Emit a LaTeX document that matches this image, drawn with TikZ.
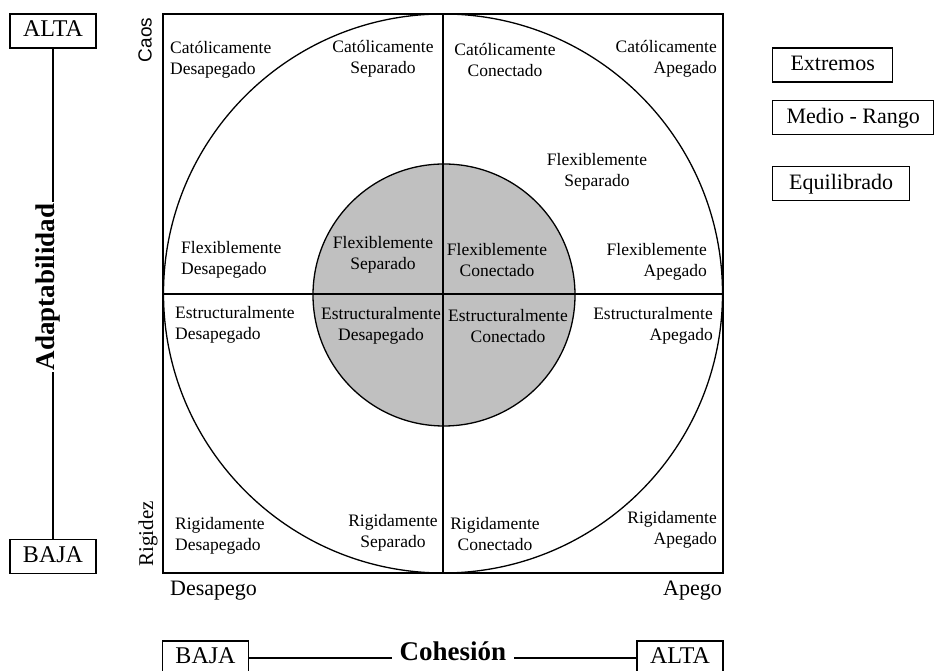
\documentclass[tikz,border=0pt]{standalone}
\usepackage{fontspec}
\setmainfont{Liberation Serif}
\setsansfont{Liberation Sans}
\usepackage{tikz}
\usetikzlibrary{positioning}
\definecolor{grisclaro}{RGB}{192,192,192}

\tikzset{
    etiqueta/.style={font=\fontsize{17.5}{21}\selectfont, inner sep=0pt},
    caja/.style={draw, line width=1.3pt, font=\fontsize{24}{28}\selectfont,
        minimum width=86pt, minimum height=34pt, inner sep=0pt, text depth=4pt},
    leyenda/.style={draw, line width=1.3pt, font=\fontsize{22}{26}\selectfont,
        minimum height=34pt, inner sep=0pt, text height=15pt, text depth=3pt, anchor=west},
    eje/.style={font=\bfseries\fontsize{27}{32}\selectfont, inner sep=0pt},
    linea/.style={line width=1.3pt},
}

\begin{document}
\begin{tikzpicture}[x=1pt,y=1pt]
    \useasboundingbox (0,0) rectangle (934,671);

    % circulos y cuadrantes
    \fill[grisclaro] (444,376) circle (131);
    \draw[linea] (444,376) circle (131);
    \draw[linea] (443,377.5) circle (279.5);
    \draw[linea] (443,98) -- (443,657);
    \draw[linea] (163,377) -- (723,377);
    \draw[line width=1.7pt] (163,98) rectangle (723,657);

    \foreach \x/\y/\a/\al/\m [count=\i] in {
        170/611/west/left/{Católicamente\\Desapegado},
        383/612.5/center/center/{Católicamente\\Separado},
        505/611/center/center/{Católicamente\\Conectado},
        717/612.5/east/right/{Católicamente\\Apegado},
        597/499/center/center/{Flexiblemente\\Separado},
        181/411/west/left/{Flexiblemente\\Desapegado},
        383/416/center/center/{Flexiblemente\\Separado},
        497/411/center/center/{Flexiblemente\\Conectado},
        707/409.5/east/right/{Flexiblemente\\Apegado},
        175/346/west/left/{Estructuralmente\\Desapegado},
        381/345/center/center/{Estructuralmente\\Desapegado},
        508/345/center/center/{Estructuralmente\\Conectado},
        713/345/east/right/{Estructuralmente\\Apegado},
        175/135/west/left/{Rigidamente\\Desapegado},
        393/138/center/center/{Rigidamente\\Separado},
        495/136.5/center/center/{Rigidamente\\Conectado},
        717/141/east/right/{Rigidamente\\Apegado}}
        \node[etiqueta, anchor=\a, align=\al] (q\i) at (\x,\y) {\m};

    % extremos de los ejes
    \node[font=\sffamily\fontsize{19}{22}\selectfont, rotate=90, inner sep=0pt] (caos) at (145,631) {Caos};
    \node[font=\rmfamily\fontsize{21}{24}\selectfont, rotate=90, inner sep=0pt] (rigidez) at (148,137) {Rigidez};
    \node[font=\fontsize{22}{26}\selectfont, anchor=base west, inner sep=0pt] (desapego) at (170,75) {Desapego};
    \node[font=\fontsize{22}{26}\selectfont, anchor=base east, inner sep=0pt] (apego) at (722,75) {Apego};

    % adaptabilidad
    \node[caja] (altaA) at (53,640) {ALTA};
    \node[caja] (bajaA) at (53,114.5) {BAJA};
    \node[eje, rotate=90, inner xsep=2pt] (adapt) at (48,384) {Adaptabilidad};
    \draw[linea] (altaA.south) -- (altaA.south |- adapt.east);
    \draw[linea] (bajaA.north) -- (bajaA.north |- adapt.west);

    % cohesion
    \node[caja] (bajaC) at (205.5,13) {BAJA};
    \node[caja] (altaC) at (680,13) {ALTA};
    \node[eje, anchor=base, inner xsep=8pt] (cohesion) at (453,10) {Cohesión};
    \draw[linea] (bajaC.east) -- (cohesion.west |- bajaC.east);
    \draw[linea] (cohesion.east |- altaC.west) -- (altaC.west);

    % leyenda
    \node[leyenda, minimum width=120pt] (extremos) at (772,606) {Extremos};
    \node[leyenda, minimum width=161pt, below=17pt of extremos.south west, anchor=north west] (medio) {Medio - Rango};
    \node[leyenda, minimum width=137pt, below=31pt of medio.south west, anchor=north west] (equilibrado) {Equilibrado};
\end{tikzpicture}
\end{document}
